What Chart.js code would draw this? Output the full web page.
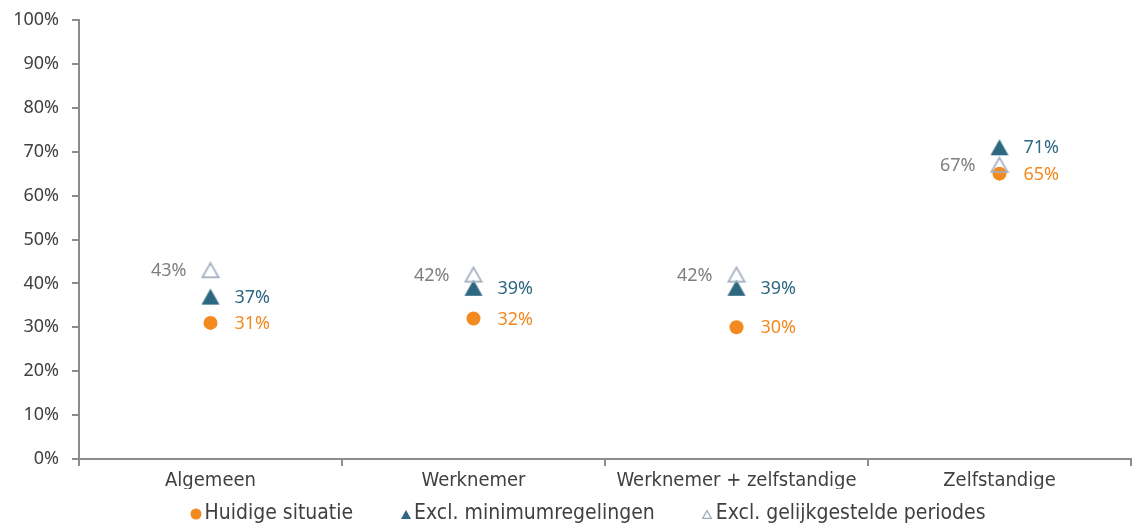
<!DOCTYPE html>
<html>
<head>
<meta charset="utf-8">
<script src="https://cdn.jsdelivr.net/npm/chart.js@4/dist/chart.umd.min.js"></script>
<style>
  html, body { margin: 0; padding: 0; background: #fff; }
  #wrap { width: 1132px; height: 527px; }
</style>
</head>
<body>
<div id="wrap"><canvas id="c" width="1132" height="527"></canvas></div>
<script>
const categories = ['Algemeen', 'Werknemer', 'Werknemer + zelfstandige', 'Zelfstandige'];
const huidigeSituatie = [31, 32, 30, 65];
const exclMinimumregelingen = [37, 39, 39, 71];
const exclGelijkgesteldePeriodes = [43, 42, 42, 67];
const yTicks = [0, 10, 20, 30, 40, 50, 60, 70, 80, 90, 100];

const ORANGE = '#F28A20';
const TEAL = '#2E6780';
const GREYBLUE = '#A3AFC0';
const GREYTEXT = '#7F7F7F';
const AXIS = '#8C8C8C';
const TEXT = '#404040';

function triangleImage(w, fill, stroke, lw) {
  const h = Math.round(w * 0.87);
  const c = document.createElement('canvas');
  c.width = w + 2; c.height = h + 2;
  const g = c.getContext('2d');
  const p = lw ? lw / 2 + 1 : 1;
  g.beginPath();
  g.moveTo(c.width / 2, p);
  g.lineTo(c.width - p, c.height - p);
  g.lineTo(p, c.height - p);
  g.closePath();
  if (fill) { g.fillStyle = fill; g.fill(); }
  if (stroke) { g.strokeStyle = stroke; g.lineWidth = lw; g.stroke(); }
  return c;
}

const tealTri = triangleImage(18, TEAL, null, 0);
const greyTri = triangleImage(18, null, GREYBLUE, 1.8);
const tealTriSmall = triangleImage(10, TEAL, null, 0);
const greyTriSmall = triangleImage(10, '#fff', GREYBLUE, 1.3);

const labelPlugin = {
  id: 'pointLabels',
  afterDatasetsDraw(chart) {
    const ctx = chart.ctx;
    ctx.save();
    ctx.font = '18px "Noto Sans"';
    ctx.textBaseline = 'middle';
    chart.data.datasets.forEach((ds, i) => {
      const meta = chart.getDatasetMeta(i);
      meta.data.forEach((pt, j) => {
        const v = ds.data[j];
        ctx.fillStyle = ds.labelColor;
        if (ds.labelSide === 'left') {
          ctx.textAlign = 'right';
          ctx.fillText(v + '%', pt.x - 24, pt.y + 1);
        } else {
          ctx.textAlign = 'left';
          ctx.fillText(v + '%', pt.x + 24, pt.y + 1);
        }
      });
    });
    ctx.restore();
  }
};

const legendPlugin = {
  id: 'customLegend',
  afterDraw(chart, args, opts) {
    const ctx = chart.ctx;
    ctx.save();
    ctx.font = '21px "DejaVu Sans Condensed"';
    ctx.textBaseline = 'middle';
    ctx.textAlign = 'left';
    const items = chart.data.datasets.map(ds => ({
      text: ds.label, marker: ds.legendMarker, w: ctx.measureText(ds.label).width
    }));
    const markerW = 11, gap = 3, itemGap = 47;
    const total = items.reduce((s, it) => s + markerW + gap + it.w, 0) + itemGap * (items.length - 1);
    let x = opts.centerX - total / 2;
    const y = opts.y;
    items.forEach(it => {
      const cx = x + markerW / 2;
      if (it.marker === 'circle') {
        ctx.fillStyle = ORANGE;
        ctx.beginPath();
        ctx.arc(cx, y, 5.5, 0, Math.PI * 2);
        ctx.fill();
      } else {
        ctx.drawImage(it.marker, Math.round(cx - it.marker.width / 2), Math.round(y - it.marker.height / 2));
      }
      x += markerW + gap;
      ctx.fillStyle = TEXT;
      ctx.fillText(it.text, x, y);
      x += it.w + itemGap;
    });
    ctx.restore();
  }
};

new Chart(document.getElementById('c'), {
  type: 'line',
  data: {
    labels: categories,
    datasets: [
      {
        label: 'Huidige situatie',
        data: huidigeSituatie,
        showLine: false,
        pointStyle: 'circle',
        pointRadius: 7,
        pointHoverRadius: 7,
        backgroundColor: ORANGE,
        borderColor: ORANGE,
        pointBorderWidth: 0,
        labelColor: ORANGE,
        labelSide: 'right',
        legendMarker: 'circle',
        order: 3
      },
      {
        label: 'Excl. minimumregelingen',
        data: exclMinimumregelingen,
        showLine: false,
        pointStyle: tealTri,
        pointRadius: 9,
        pointHoverRadius: 9,
        backgroundColor: TEAL,
        borderColor: TEAL,
        labelColor: TEAL,
        labelSide: 'right',
        legendMarker: tealTriSmall,
        order: 2
      },
      {
        label: 'Excl. gelijkgestelde periodes',
        data: exclGelijkgesteldePeriodes,
        showLine: false,
        pointStyle: greyTri,
        pointRadius: 9,
        pointHoverRadius: 9,
        backgroundColor: 'rgba(255,255,255,0)',
        borderColor: GREYBLUE,
        labelColor: GREYTEXT,
        labelSide: 'left',
        legendMarker: greyTriSmall,
        order: 1
      }
    ]
  },
  options: {
    responsive: false,
    animation: false,
    events: [],
    layout: { autoPadding: false, padding: { top: 20, right: 1, left: 0, bottom: 38 } },
    scales: {
      x: {
        offset: true,
        afterFit(scale) { scale.height = 30; scale.paddingLeft = 0; scale.paddingRight = 0; },
        grid: {
          offset: true,
          drawOnChartArea: false,
          drawTicks: true,
          tickLength: 7,
          color: AXIS,
          lineWidth: 2
        },
        border: { color: AXIS, width: 2 },
        ticks: {
          color: TEXT,
          font: { family: '"DejaVu Sans Condensed"', size: 20 },
          padding: 3,
          maxRotation: 0
        }
      },
      y: {
        min: 0,
        max: 100,
        afterFit(scale) { scale.width = 79; scale.paddingTop = 0; scale.paddingBottom = 0; },
        afterBuildTicks(scale) { scale.ticks = yTicks.map(v => ({ value: v })); },
        grid: {
          drawOnChartArea: false,
          drawTicks: true,
          tickLength: 7,
          color: AXIS,
          lineWidth: 2
        },
        border: { color: AXIS, width: 2 },
        ticks: {
          color: TEXT,
          font: { family: '"Noto Sans"', size: 18 },
          padding: 13,
          callback: v => v + '%'
        }
      }
    },
    plugins: {
      tooltip: { enabled: false },
      legend: { display: false },
      customLegend: { centerX: 588, y: 514 }
    }
  },
  plugins: [labelPlugin, legendPlugin]
});
</script>
</body>
</html>
